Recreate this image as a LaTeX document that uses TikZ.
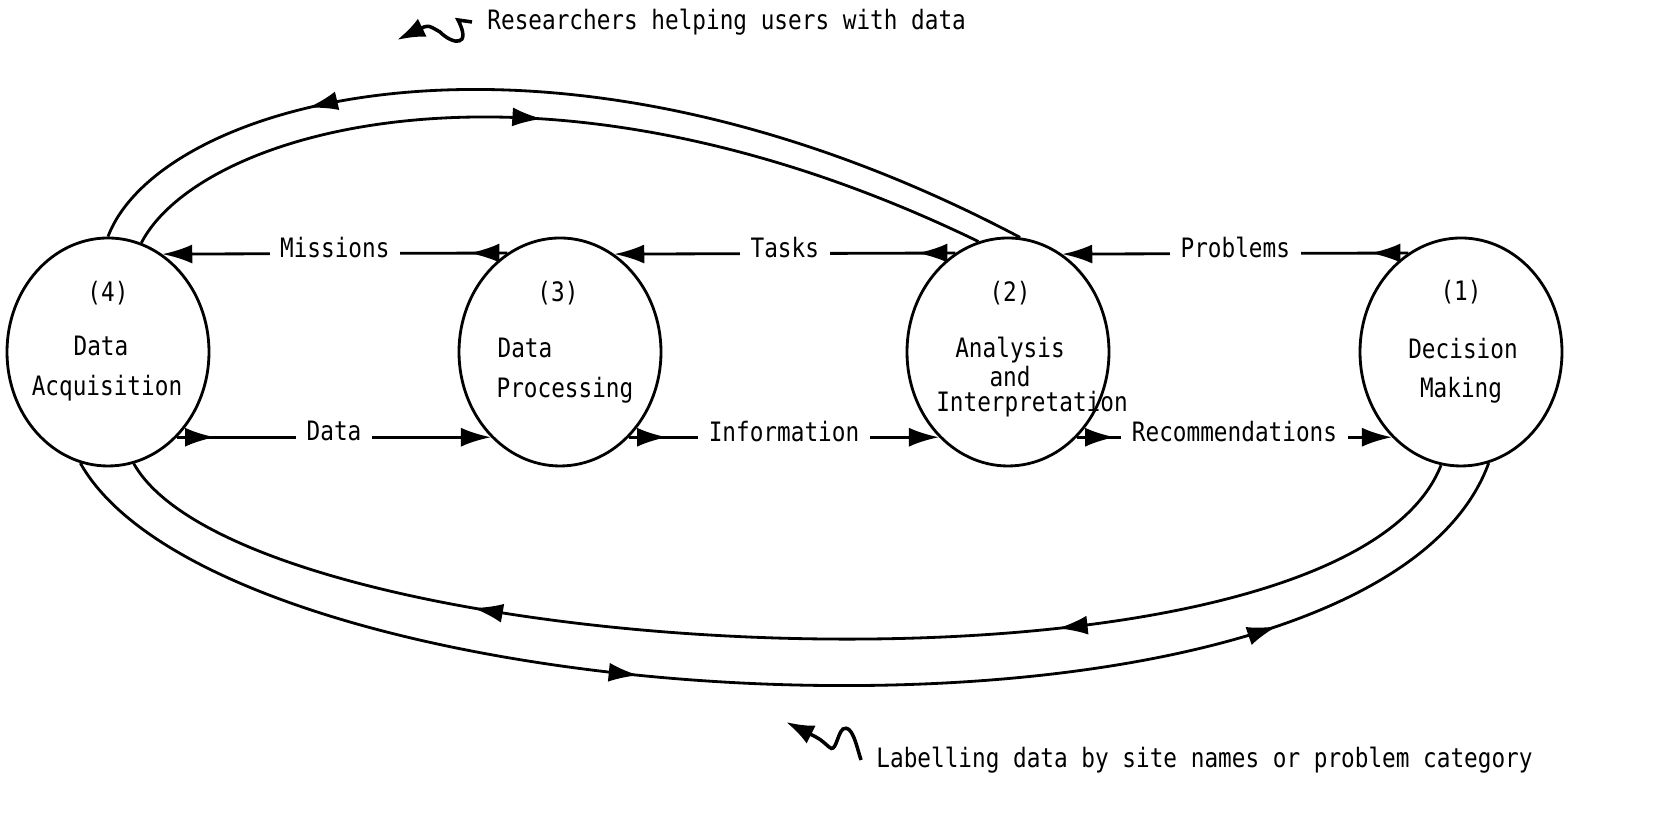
\documentclass[tikz,border=0pt]{standalone}
\usepackage{fontspec}
\setmonofont[FakeStretch=0.85]{DejaVu Sans Mono}
\usetikzlibrary{arrows.meta,shapes.geometric,decorations.markings}

\begin{document}
\begin{tikzpicture}[>={Latex[length=3mm,width=1.9mm]},thick,
  stage/.style={ellipse,draw,minimum width=2.02cm,minimum height=2.28cm,inner sep=0pt},
  txt/.style={font=\ttfamily\fontsize{7.6}{9}\selectfont,inner sep=1pt},
  lbl/.style={txt,fill=white,inner xsep=3pt,midway,yshift=0.6mm},
  flow/.style={->,postaction={decorate},
    decoration={markings,mark=at position 3.8mm with {\arrow{>}}}},
  one arrow/.style={postaction={decorate},
    decoration={markings,mark=at position #1 with {\arrow{>}}}},
  two arrows/.style 2 args={postaction={decorate},
    decoration={markings,mark=at position #1 with {\arrow{>}},
      mark=at position #2 with {\arrow{>}}}},
  squiggle/.style={->,>={Latex[length=2.8mm,width=2mm]},line width=1pt}]

  \useasboundingbox (0,0) rectangle (16.76,8.29);

  \node[stage] (c4) at (1.08,4.77) {};
  \node[stage] (c3) at (5.60,4.77) {};
  \node[stage] (c2) at (10.08,4.77) {};
  \node[stage] (c1) at (14.61,4.77) {};

  \node[txt] (n4) at (1.08,5.36) {(4)};
  \node[txt] (t4a) at (1.01,4.83) {Data};
  \node[txt] (t4b) at (1.07,4.41) {Acquisition};
  \node[txt] (n3) at (5.58,5.36) {(3)};
  \node[txt] (t3a) at (5.25,4.81) {Data};
  \node[txt] (t3b) at (5.65,4.39) {Processing};
  \node[txt] (n2) at (10.10,5.36) {(2)};
  \node[txt] (t2a) at (10.10,4.79) {Analysis};
  \node[txt] (t2b) at (10.10,4.52) {and};
  \node[txt] (t2c) at (10.32,4.25) {Interpretation};
  \node[txt] (n1) at (14.61,5.37) {(1)};
  \node[txt] (t1a) at (14.63,4.80) {Decision};
  \node[txt] (t1b) at (14.61,4.39) {Making};

  \path
    (c3.118.7) edge[flow] node[lbl] {Missions} (c4.61.3)
    (c2.118.7) edge[flow] node[lbl] {Tasks} (c3.61.3)
    (c1.118.7) edge[flow] node[lbl] {Problems} (c2.61.3)
    (c4.-51.8) edge[flow] node[lbl] {Data} (c3.231.8)
    (c3.-51.8) edge[flow] node[lbl] {Information} (c2.231.8)
    (c2.-51.8) edge[flow] node[lbl] {Recommendations} (c1.231.8)
    ;

  \draw[one arrow=0.75] (c2.84) .. controls (5.5,8.4) and (1.6,7.3) .. (c4.90);
  \draw[one arrow=0.49] (c4.73) .. controls (2.0,7.0) and (5.4,8.0) .. (c2.105);
  \draw[two arrows={0.40}{0.82}] (c4.256) .. controls (2.3,1.0) and (13.7,0.4) .. (c1.284);
  \draw[two arrows={0.31}{0.73}] (c1.260) .. controls (13.4,1.05) and (2.5,1.6) .. (c4.283);

  \node[txt,anchor=west,inner xsep=4pt] (res) at (4.72,8.07) {Researchers helping users with data};
  \node[txt,anchor=west,inner xsep=4pt] (lab) at (8.61,0.69) {Labelling data by site names or problem category};
  \coordinate (tipR) at (3.97,7.89);
  \coordinate (tipL) at (7.86,1.07);

  \draw[squiggle] (res.west) -- (4.58,8.09) .. controls (4.72,7.82) and (4.53,7.84) .. (4.40,7.97)
    .. controls (4.28,8.04) .. (tipR);
  \draw[squiggle] (lab.west) .. controls (8.56,0.85) and (8.52,1.05) .. (8.43,1.0)
    .. controls (8.37,0.95) and (8.36,0.75) .. (8.29,0.82) .. controls (8.2,0.9) .. (tipL);

\end{tikzpicture}
\end{document}
